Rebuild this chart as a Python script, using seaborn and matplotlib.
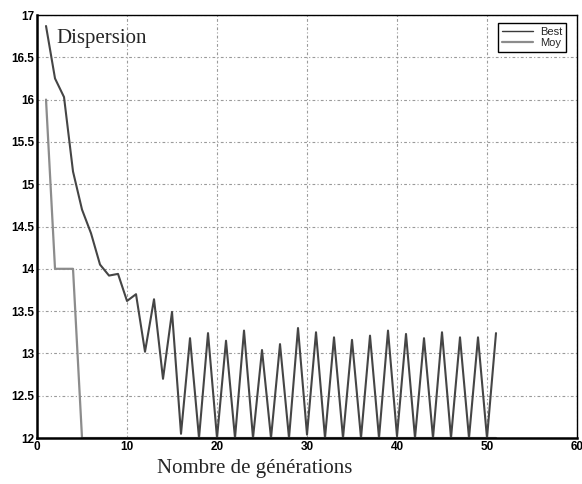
import matplotlib
matplotlib.use("Agg")
import matplotlib.pyplot as plt
import numpy as np
import pandas as pd
import seaborn as sns
from matplotlib.lines import Line2D

# generations 1..51
generations = list(range(1, 52))

best = [16.87, 16.25, 16.03, 15.15, 14.70, 14.42, 14.05, 13.92, 13.94, 13.62,
        13.70, 13.02, 13.64, 12.70, 13.49, 12.05, 13.18, 12.00, 13.24, 12.00,
        13.15, 12.00, 13.27, 12.00, 13.04, 12.00, 13.11, 12.00, 13.30, 12.04,
        13.25, 12.00, 13.19, 12.00, 13.16, 12.00, 13.21, 12.00, 13.27, 12.02,
        13.23, 12.00, 13.18, 12.00, 13.25, 12.00, 13.19, 12.00, 13.19, 12.00,
        13.24]

moy = [16.0, 14.0, 14.0, 14.0] + [12.0] * 47

xticks = [0, 10, 20, 30, 40, 50, 60]
yticks = [12, 12.5, 13, 13.5, 14, 14.5, 15, 15.5, 16, 16.5, 17]
ytick_labels = ["12", "12.5", "13", "13.5", "14", "14.5", "15", "15.5", "16", "16.5", "17"]

df = pd.DataFrame({"gen": generations * 2,
                   "val": best + moy,
                   "serie": ["Best"] * len(best) + ["Moy"] * len(moy)})

sns.set_style("white")
plt.rcParams['font.family'] = ['Liberation Sans', 'DejaVu Sans']

fig = plt.figure(figsize=(5.82, 4.84), dpi=100)
ax = fig.add_axes([0.0636, 0.095, 0.9278, 0.874])

sns.lineplot(data=df, x="gen", y="val", hue="serie",
             palette={"Best": "#454545", "Moy": "#8c8c8c"},
             ax=ax, legend=False)
lines = ax.get_lines()
lines[0].set_linewidth(1.5)
lines[1].set_linewidth(1.6)

ax.set_xlim(0, 60)
ax.set_ylim(12, 17)
ax.set_xticks(xticks)
ax.set_yticks(yticks)
ax.set_yticklabels(ytick_labels)
ax.set_xlabel("")
ax.set_ylabel("")
ax.tick_params(direction="in", length=3, labelsize=8.5, pad=2, colors="black")
for lab in ax.get_xticklabels() + ax.get_yticklabels():
    lab.set_fontweight("bold")

ax.grid(True, color="#9a9a9a", linestyle=(0, (2.5, 2, 1, 2)), linewidth=0.8)
for name, sp in ax.spines.items():
    sp.set_color("black")
    sp.set_linewidth(1.8 if name in ("left", "bottom") else 1.0)

handles = [Line2D([], [], color="#3a3a3a", lw=1.0),
           Line2D([], [], color="#8c8c8c", lw=1.6)]
leg = ax.legend(handles, ["Best", "Moy"], loc="upper right",
                bbox_to_anchor=(0.99, 0.995), fontsize=8, handlelength=2.8,
                frameon=True, fancybox=False, framealpha=1, borderpad=0.35,
                labelspacing=0.15, handletextpad=0.6)
leg.get_frame().set_edgecolor("black")
leg.get_frame().set_linewidth(1.0)

ax.text(0.035, 0.945, "Dispersion", transform=ax.transAxes,
        family="Liberation Serif", fontsize=15, va="center", ha="left")
fig.text(0.437, 0.031, "Nombre de générations", family="Liberation Serif",
         fontsize=15, ha="center", va="center")

fig.savefig("out.png", dpi=100)
